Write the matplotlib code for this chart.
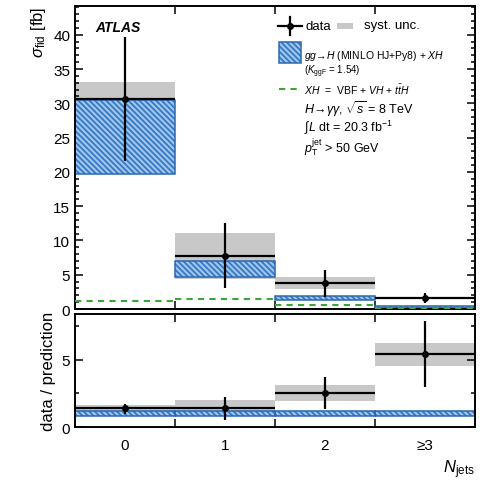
import numpy as np
import matplotlib
matplotlib.use('Agg')
from matplotlib import pyplot as plt
from matplotlib.patches import Rectangle
from matplotlib.lines import Line2D
from matplotlib.ticker import MultipleLocator

plt.rcParams['font.family'] = ['Liberation Sans', 'DejaVu Sans']
plt.rcParams['mathtext.fontset'] = 'custom'
plt.rcParams['mathtext.rm'] = 'Liberation Sans'
plt.rcParams['mathtext.it'] = 'Liberation Sans:italic'
plt.rcParams['mathtext.bf'] = 'Liberation Sans:bold'
plt.rcParams['hatch.linewidth'] = 1.3

# ---- data ----
bins = np.array([0, 1, 2, 3])
bin_labels = ['0', '1', '2', '\u22653']

data_xs = [30.7, 7.7, 3.8, 1.6]
data_up = [39.7, 12.6, 5.7, 2.3]
data_dn = [21.6, 3.0, 1.75, 0.9]
syst_lo = [28.0, 4.4, 2.9, 1.4]
syst_hi = [33.1, 11.1, 4.7, 1.8]

pred_lo = [19.7, 4.7, 1.3, 0.2]
pred_hi = [30.5, 7.0, 1.9, 0.4]
xh_pred = [1.2, 1.4, 0.6, 0.15]

ratio = [1.42, 1.42, 2.54, 5.45]
ratio_up = [1.7, 2.26, 3.75, 7.9]
ratio_dn = [1.0, 0.55, 1.34, 2.96]
ratio_syst_lo = [1.1, 0.9, 1.96, 4.57]
ratio_syst_hi = [1.6, 2.04, 3.16, 6.25]
ratio_pred_lo = [0.84, 0.85, 0.85, 0.85]
ratio_pred_hi = [1.22, 1.2, 1.2, 1.2]

blue_face = '#a2c6ec'
blue_hatch = '#3479c6'
blue_edge = '#2a68b0'
grey = '#c8c8c8'
green = '#3aa63a'
HATCH = '\\\\\\\\\\\\'


def draw_pred(ax, lo, hi):
    lo = np.array(lo)
    hi = np.array(hi)
    ax.bar(bins, hi - lo, bottom=lo, width=1.0, color=blue_face,
           edgecolor=blue_hatch, hatch=HATCH, linewidth=0, zorder=2)
    ax.bar(bins, hi - lo, bottom=lo, width=1.0, fill=False,
           edgecolor=blue_edge, linewidth=1.1, zorder=2.1)


def draw_data(ax, y, up, dn, slo, shi):
    y = np.array(y)
    slo = np.array(slo)
    shi = np.array(shi)
    ax.bar(bins, shi - slo, bottom=slo, width=1.0, color=grey,
           linewidth=0, zorder=1)
    ax.errorbar(bins, y, xerr=0.5,
                yerr=[y - np.array(dn), np.array(up) - y],
                fmt='o', ms=4, color='black', lw=1.6, capsize=0, zorder=5)


def style_axis(ax):
    ax.set_xlim(-0.5, 3.5)
    ax.set_xticks([0.5, 1.5, 2.5])
    ax.set_xticklabels([])
    ax.tick_params(axis='both', which='both', direction='in',
                   top=True, right=True, labelsize=11, width=1.1)
    ax.tick_params(which='major', length=6)
    ax.tick_params(which='minor', length=3)
    for s in ax.spines.values():
        s.set_linewidth(1.4)


fig = plt.figure(figsize=(4.88, 4.85), dpi=100)
ax1 = fig.add_axes([0.1537, 0.3608, 0.8196, 0.6248])
ax2 = fig.add_axes([0.1537, 0.1175, 0.8196, 0.2330])

# ---- top panel ----
draw_pred(ax1, pred_lo, pred_hi)
ax1.hlines(xh_pred, bins - 0.5, bins + 0.5, colors=green,
           linestyles=(0, (3, 2.5)), lw=1.5, zorder=3)
draw_data(ax1, data_xs, data_up, data_dn, syst_lo, syst_hi)

style_axis(ax1)
ax1.set_ylim(0, 44.2)
ax1.yaxis.set_major_locator(MultipleLocator(5))
ax1.yaxis.set_minor_locator(MultipleLocator(1))
ax1.set_ylabel(r'$\sigma_{\rm fid}$ [fb]', loc='top', fontsize=12)

ax1.text(0.05, 0.93, 'ATLAS', transform=ax1.transAxes, fontsize=10,
         fontweight='bold', fontstyle='italic', va='center')

# legend, drawn by hand
tr = ax1.transAxes
ax1.add_line(Line2D([0.5075, 0.5675], [0.934, 0.934], transform=tr,
                    color='black', lw=1.6))
ax1.add_line(Line2D([0.5375, 0.5375], [0.905, 0.963], transform=tr,
                    color='black', lw=1.6))
ax1.plot([0.5375], [0.934], 'o', ms=4, color='black', transform=tr)
ax1.text(0.577, 0.934, 'data', transform=tr, fontsize=9.5, va='center')
ax1.add_patch(Rectangle((0.655, 0.925), 0.04, 0.018, transform=tr,
                        color=grey, lw=0))
ax1.text(0.7225, 0.937, 'syst. unc.', transform=tr, fontsize=9.5,
         va='center')
ax1.add_patch(Rectangle((0.51, 0.812), 0.055, 0.069, transform=tr,
                        facecolor=blue_face, edgecolor=blue_hatch,
                        hatch=HATCH, lw=0))
ax1.add_patch(Rectangle((0.51, 0.812), 0.055, 0.069, transform=tr,
                        fill=False, edgecolor=blue_edge, lw=1.1))
ax1.text(0.572, 0.838, r'$gg\!\rightarrow\!H$ (MINLO HJ+Py8) + $XH$',
         transform=tr, fontsize=7.5, va='center')
ax1.text(0.572, 0.785, r'($K_{\rm ggF}$ = 1.54)', transform=tr,
         fontsize=7, va='center')
ax1.add_line(Line2D([0.51, 0.565], [0.726, 0.726], transform=tr,
                    color=green, lw=1.5, ls=(0, (3, 2.5))))
ax1.text(0.572, 0.726, r'$XH$  =  VBF + $VH$ + $t\bar{t}H$', transform=tr,
         fontsize=7.5, va='center')
ax1.text(0.572, 0.664, r'$H\!\rightarrow\!\gamma\gamma$, $\sqrt{s}$ = 8 TeV',
         transform=tr, fontsize=9, va='center')
ax1.text(0.572, 0.604, r'$\int L$ dt = 20.3 fb$^{-1}$', transform=tr,
         fontsize=9, va='center')
ax1.text(0.572, 0.535, r'$p_{\rm T}^{\rm jet}$ > 50 GeV', transform=tr,
         fontsize=9, va='center')

# ---- ratio panel ----
draw_pred(ax2, ratio_pred_lo, ratio_pred_hi)
draw_data(ax2, ratio, ratio_up, ratio_dn, ratio_syst_lo, ratio_syst_hi)
style_axis(ax2)
ax2.set_ylim(0, 8.4)
ax2.yaxis.set_major_locator(MultipleLocator(5))
ax2.yaxis.set_minor_locator(MultipleLocator(2.5))
ax2.set_xticks(bins, minor=True)
ax2.set_xticklabels(bin_labels, minor=True)
ax2.tick_params(axis='x', which='minor', length=0, labelsize=11, pad=8)
ax2.set_ylabel('data / prediction', fontsize=12)
ax2.set_xlabel(r'$N_{\rm jets}$', loc='right', fontsize=12)

fig.savefig('out.png', dpi=100)
